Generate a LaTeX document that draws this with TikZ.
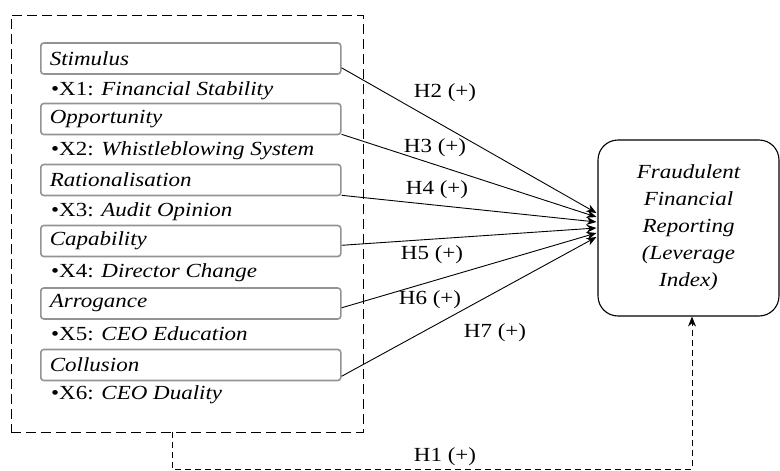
\documentclass[tikz,border=0pt]{standalone}
\usepackage{fontspec}
\setmainfont[FakeStretch=1.15]{Liberation Serif}
\usetikzlibrary{arrows.meta}
\usetikzlibrary{calc}
\usepackage{xcolor}

\newcommand{\diagfont}{\fontsize{20}{27}\selectfont}

\tikzset{
  factor/.style={draw=gray!85, line width=1.6pt, rounded corners=3pt,
    minimum width=300pt, minimum height=31pt, anchor=west,
    inner xsep=9pt, text width=282pt, align=left, font=\diagfont\itshape},
  proxy/.style={anchor=west, inner sep=0pt},
  hyp/.style={inner sep=0pt},
  path/.style={line width=0.9pt, -{Stealth[length=10pt,width=8pt]}}
}

\begin{document}
\begin{tikzpicture}[x=1pt,y=-1pt,font=\diagfont]

        \useasboundingbox (0,0) rectangle (780,471);

        % Group of fraud pentagon factors
        \node[draw, dashed, dash pattern=on 10pt off 5pt, line width=0.9pt,
              minimum width=352pt, minimum height=417pt, inner sep=0pt] (grp) at (187,223.5) {};

        % Factor boxes
        \node[factor] (stim) at (40,58.5) {Stimulus};
        \node[factor] (opp) at (40,119) {Opportunity};
        \node[factor] (rat) at (40,180) {Rationalisation};
        \node[factor] (cap) at (40,241) {Capability};
        \node[factor] (arr) at (40,303.5) {Arrogance};
        \node[factor] (col) at (40,365) {Collusion};

        % Proxies
        \node[proxy] (x1) at (51,91) {\textbullet X1: \textit{Financial Stability}};
        \node[proxy] (x2) at (51,151) {\textbullet X2: \textit{Whistleblowing System}};
        \node[proxy] (x3) at (51,212) {\textbullet X3: \textit{Audit Opinion}};
        \node[proxy] (x4) at (51,273) {\textbullet X4: \textit{Director Change}};
        \node[proxy] (x5) at (51,334) {\textbullet X5: \textit{CEO Education}};
        \node[proxy] (x6) at (51,395) {\textbullet X6: \textit{CEO Duality}};

        % Dependent variable
        \node[draw, line width=1.1pt, rounded corners=20pt, minimum width=181pt,
              minimum height=176pt, align=center, font=\diagfont\itshape] (frr) at (688.5,228)
              {Fraudulent\\Financial\\Reporting\\(Leverage\\Index)};

        % Hypotheses
        \foreach \src/\up/\dy in {stim/7/15, opp/1/11, rat/1/6, cap/12/0, arr/12/-5, col/5/-9}
        {
          \draw[path] ($(\src.south east)+(0,\up pt)$) -- ($(frr.west)+(-1pt,\dy pt)$);
        }

        \node[hyp] (h2) at (445,93) {H2 (+)};
        \node[hyp] (h3) at (435,148) {H3 (+)};
        \node[hyp] (h4) at (437,190) {H4 (+)};
        \node[hyp] (h5) at (432,255) {H5 (+)};
        \node[hyp] (h6) at (430,300) {H6 (+)};
        \node[hyp] (h7) at (495,333) {H7 (+)};

        % Simultaneous effect
        \coordinate (h1a) at ($(grp.south)+(-15pt,0)$);
        \coordinate (h1b) at ($(frr.south)+(3.5pt,0)$);
        \draw[dashed, dash pattern=on 6pt off 4pt, line width=0.9pt, -{Stealth[length=10pt,width=8pt]}]
          (h1a) -- (h1a |- 0,469) -- (h1b |- 0,469) -- (h1b);
        \node[hyp] (h1) at (445,457) {H1 (+)};

\end{tikzpicture}
\end{document}
